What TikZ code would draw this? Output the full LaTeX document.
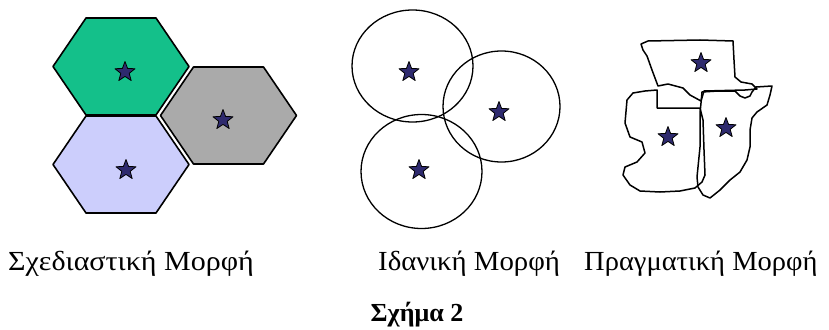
\documentclass[tikz,border=0pt]{standalone}
\usepackage{fontspec}
\setmainfont{Liberation Serif}
\usetikzlibrary{calc}
\definecolor{hexgreen}{RGB}{20,192,138}
\definecolor{hexgray}{RGB}{170,170,170}
\definecolor{hexlav}{RGB}{204,206,252}
\definecolor{starblue}{RGB}{46,42,110}
\tikzset{
  hexcell/.style={draw=black, line width=1.6pt, line join=round},
  ring/.style={draw=black, line width=1.3pt},
  outline/.style={draw=black, line width=1.5pt, line join=round},
  starmark/.style={fill=starblue, draw=black, line width=0.8pt, line join=round},
  caption/.style={font=\fontsize{30}{34}\selectfont, anchor=base west, inner sep=0pt},
  title/.style={font=\fontsize{26}{30}\selectfont\bfseries, anchor=base, inner sep=0pt}
}
\newcommand{\hexat}[3]{% x, y, colour
  \path[hexcell, fill=#3] (#1-68,#2) -- (#1-35,#2-48.5) -- (#1+35,#2-48.5) -- (#1+68,#2)
    -- (#1+35,#2+48.5) -- (#1-35,#2+48.5) -- cycle;}
\newcommand{\starat}[2]{%
  \path[starmark] ($(#1,#2)+(0,-10.5)$)
    \foreach \k in {1,...,9}{ -- ($(#1,#2)+({-90+36*\k}:{ifthenelse(mod(\k,2)==1,4.4,10.5)})$) } -- cycle;}
\newcommand{\squash}[2]{\scalebox{#1}[0.92]{#2}}
\begin{document}
\begin{tikzpicture}[x=1pt,y=-1pt]
\useasboundingbox (0,0) rectangle (829,329);
% --- planned hexagons
\hexat{121}{66.5}{hexgreen}
\hexat{121}{164.5}{hexlav}
\hexat{228.5}{115.5}{hexgray}
\starat{125}{72}
\starat{126}{170}
\starat{223}{120}
% --- ideal circles
\draw[ring] (412.5,66) ellipse [x radius=60.5, y radius=56];
\draw[ring] (421.5,171.5) ellipse [x radius=60.5, y radius=57];
\draw[ring] (501.5,106.5) ellipse [x radius=58.5, y radius=55.5];
\starat{409}{72}
\starat{499}{112}
\starat{419}{170}
% --- real shapes
\draw[outline] (643,50) -- (641,44) -- (648,41) -- (700,40) -- (733,41) -- (734,60) -- (735,77)
  -- (741,82) -- (752,84) -- (757,89) -- (745,90) -- (704,91) -- (701,101) -- (690,95)
  -- (683,88) -- (668,84) -- (658,86) -- (652,70) -- (647,56) -- cycle;
\draw[outline] (701,103) -- (702,92) -- (718,91) -- (735,91) -- (740,96) -- (745,98) -- (750,96)
  -- (752,92) -- (756,87) -- (772,86) -- (770,95) -- (767,105) -- (757,112) -- (752,118)
  -- (750,130) -- (750,147) -- (747,160) -- (740,172) -- (730,180) -- (720,190) -- (710,198)
  -- (703,195) -- (698,187) -- (697,177) -- (698,167) -- (700,147) -- (700,113) -- cycle;
\draw[outline] (657,90) -- (657,108) -- (700,108) -- (703,120) -- (704,150) -- (705,175)
  -- (702,182) -- (695,188) -- (680,191) -- (660,192) -- (640,191) -- (630,185) -- (623,175)
  -- (625,167) -- (637,162) -- (645,153) -- (642,142) -- (630,137) -- (625,123) -- (627,100)
  -- (633,93) -- (645,91) -- cycle;
\starat{701}{63}
\starat{668}{137}
\starat{726}{128}
% --- labels
\node[caption] (l1) at (8,270) {\squash{1.0}{Σχεδιαστική Μορφή}};
\node[caption] (l2) at (378,270) {\squash{0.96}{Ιδανική Μορφή}};
\node[caption] (l3) at (584,270) {\squash{0.95}{Πραγματική Μορφή}};
\node[title] (t) at (417,321) {\scalebox{1}[1]{Σχήμα 2}};
\end{tikzpicture}
\end{document}
